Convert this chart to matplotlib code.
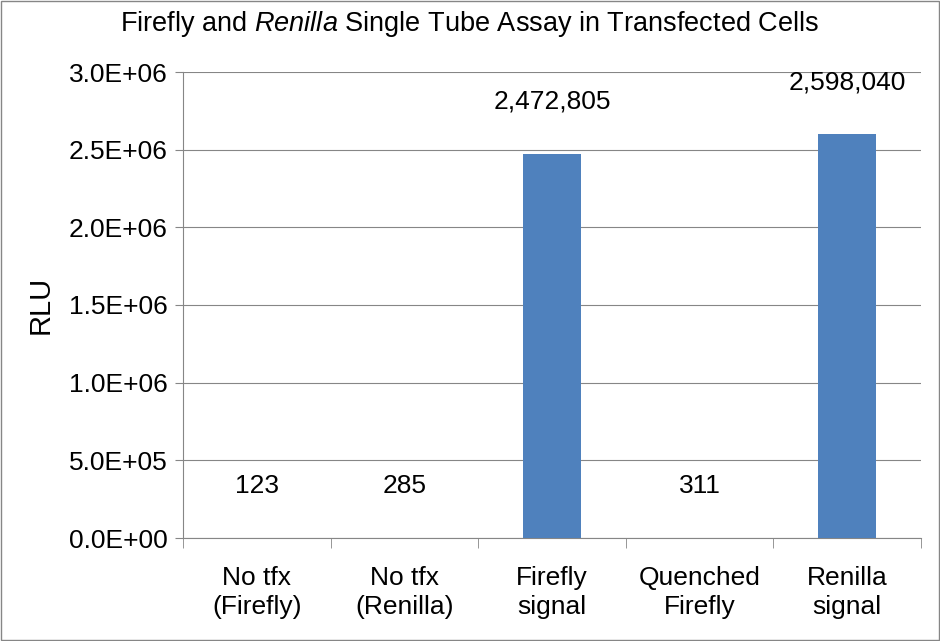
import matplotlib
matplotlib.use("Agg")
import matplotlib.pyplot as plt
import numpy as np

categories = ["No tfx\n(Firefly)", "No tfx\n(Renilla)", "Firefly\nsignal", "Quenched\nFirefly", "Renilla\nsignal"]
values = [123, 285, 2472805, 311, 2598040]
yticks = [0, 5e5, 1e6, 1.5e6, 2e6, 2.5e6, 3e6]
ytick_labels = ["0.0E+00", "5.0E+05", "1.0E+06", "1.5E+06", "2.0E+06", "2.5E+06", "3.0E+06"]

plt.rcParams["font.family"] = "Liberation Sans"
plt.rcParams["mathtext.fontset"] = "custom"
plt.rcParams["mathtext.rm"] = "Liberation Sans"
plt.rcParams["mathtext.it"] = "Liberation Sans:italic"

fig = plt.figure(figsize=(9.4, 6.41), dpi=100)
ax = fig.add_axes([183/940, 1-538/641, (921-183)/940, (538-72)/641])
x = np.arange(len(categories))
ax.bar(x, values, width=0.39, color="#4F81BD", zorder=3)
ax.set_xlim(-0.5, len(categories)-0.5)
ax.set_ylim(0, 3e6)
ax.set_yticks(yticks)
ax.set_yticklabels(ytick_labels, fontsize=19)
ax.set_xticks(x)
ax.set_xticklabels(categories, fontsize=19, linespacing=1.3)
ax.set_xticks(np.arange(-0.5, len(categories)), minor=True)
ax.tick_params(axis="x", which="major", length=0, pad=20)
ax.tick_params(axis="x", which="minor", length=7, color="#868686", direction="out")
ax.tick_params(axis="y", length=6, color="#868686", direction="out", pad=5)
ax.grid(axis="y", color="#868686", linewidth=0.8, zorder=0)
for s in ["top", "right"]:
    ax.spines[s].set_visible(False)
for s in ["left", "bottom"]:
    ax.spines[s].set_color("#868686")
for xi, v in zip(x, values):
    ax.annotate(f"{v:,}", (xi, v), xytext=(0, 29), textcoords="offset points",
                ha="center", va="bottom", fontsize=19)
ax.set_ylabel("RLU", fontsize=21, labelpad=10)
fig.text(0.5, 1-24/641, r"Firefly and $\it{Renilla}$ Single Tube Assay in Transfected Cells",
         ha="center", va="center", fontsize=19.5)
fig.patches.append(plt.Rectangle((0.001, 0.001), 0.998, 0.998, transform=fig.transFigure,
                                 fill=False, edgecolor="#868686", linewidth=1))
fig.savefig("out.png", dpi=100)
